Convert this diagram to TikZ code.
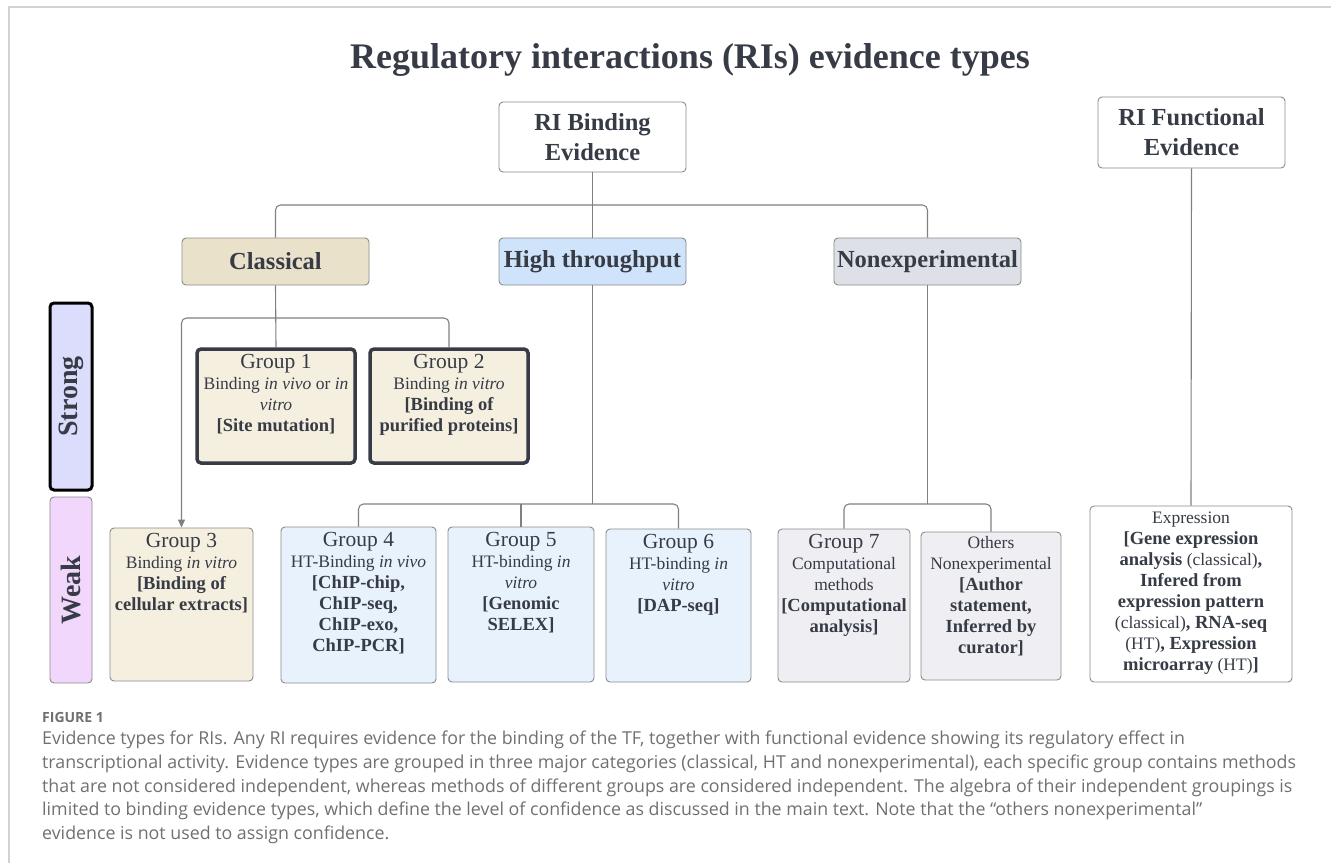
\documentclass[tikz,border=0pt]{standalone}
\usepackage{fontspec}
\setmainfont{Liberation Serif}
\newfontfamily\capfont{Open Sans}
\usetikzlibrary{arrows.meta,positioning}
\definecolor{ink}{HTML}{363B45}
\definecolor{edge}{HTML}{8A8A8A}
\definecolor{linkc}{HTML}{808080}
\definecolor{framec}{HTML}{D2D2D2}
\definecolor{capc}{HTML}{707070}
\definecolor{tan}{HTML}{E9E1C9}
\definecolor{cream}{HTML}{F5EFE0}
\definecolor{skyhdr}{HTML}{CFE3FB}
\definecolor{sky}{HTML}{E8F2FD}
\definecolor{slatehdr}{HTML}{DDE1E7}
\definecolor{slate}{HTML}{EFEFF3}
\definecolor{lavender}{HTML}{DCDCFD}
\definecolor{orchid}{HTML}{F0D7FB}
\newcommand{\grouphead}[1]{{\fontsize{21.5}{21}\selectfont #1}}
\newcommand{\gb}[1]{{\fontsize{18.5}{21}\selectfont\bfseries #1}}

\begin{document}
\begin{tikzpicture}[
  x=1pt, y=-1pt, >={Triangle[length=8pt,width=7pt]},
  box/.style={draw=edge, line width=0.9pt, rounded corners=4pt, text=ink, align=center, inner sep=2pt},
  hdr/.style={box, font=\fontsize{24.5}{30}\selectfont\bfseries, minimum width=187pt},
  lvl/.style={box, rotate=90, font=\fontsize{28}{28}\selectfont\bfseries, minimum height=42pt},
  keybox/.style={box, draw=ink, line width=3.5pt, fill=cream, minimum width=158pt, minimum height=114pt},
  grp/.style={box},
  gtxt/.style={align=center, inner sep=0pt, text=ink, font=\fontsize{17.5}{21}\selectfont},
  link/.style={draw=linkc, line width=1.1pt, rounded corners=5pt},
]
  \useasboundingbox (0,0) rectangle (1331,863);
  \draw[draw=framec, line width=1.8pt] (9,863) -- (9,7) -- (1331,7);
  \node[text=ink, font=\fontsize{36}{40}\selectfont\bfseries] (title) at (690,60) {Regulatory interactions (RIs) evidence types};

  \node[hdr, fill=white, minimum height=70pt] (rib) at (592.5,137) {RI Binding\\Evidence};
  \node[hdr, fill=white, minimum height=71pt] (rif) at (1191.5,132.5) {RI Functional\\Evidence};
  \node[hdr, fill=tan, minimum height=47pt] (cls) at (275.5,261.5) {Classical};
  \node[hdr, fill=skyhdr, minimum height=47pt] (ht) at (592.5,261.5) {High throughput};
  \node[hdr, fill=slatehdr, minimum height=47pt] (nx) at (927.5,261.5) {Nonexperimental};

  \node[lvl, draw=black, line width=3pt, fill=lavender, minimum width=187pt] (strong) at (71,396.5) {Strong};
  \node[lvl, fill=orchid, minimum width=186pt] (weak) at (71,590) {Weak};

  \node[keybox] (g1) at (276,406) {};
  \node[gtxt, below=7pt of g1.north] (t1) {\grouphead{Group 1}\\Binding \textit{in vivo} or \textit{in}\\\textit{vitro}\\\gb{[Site mutation]}};
  \node[keybox] (g2) at (449,406) {};
  \node[gtxt, below=7pt of g2.north] (t2) {\grouphead{Group 2}\\Binding \textit{in vitro}\\\gb{[Binding of}\\\gb{purified proteins]}};

  \node[grp, fill=cream, minimum width=143pt, minimum height=153pt] (g3) at (181.5,604.5) {};
  \node[gtxt, below=6pt of g3.north] (t3) {\grouphead{Group 3}\\Binding \textit{in vitro}\\\gb{[Binding of}\\\gb{cellular extracts]}};
  \node[grp, fill=sky, minimum width=155pt, minimum height=156pt] (g4) at (358.5,605) {};
  \node[gtxt, below=6pt of g4.north] (t4) {\grouphead{Group 4}\\HT-Binding \textit{in vivo}\\\gb{[ChIP-chip,}\\\gb{ChIP-seq,}\\\gb{ChIP-exo,}\\\gb{ChIP-PCR]}};
  \node[grp, fill=sky, minimum width=146pt, minimum height=155pt] (g5) at (521,604.5) {};
  \node[gtxt, below=6pt of g5.north] (t5) {\grouphead{Group 5}\\HT-binding \textit{in}\\\textit{vitro}\\\gb{[Genomic}\\\gb{SELEX]}};
  \node[grp, fill=sky, minimum width=145pt, minimum height=153pt] (g6) at (678.5,605.5) {};
  \node[gtxt, below=6pt of g6.north] (t6) {\grouphead{Group 6}\\HT-binding \textit{in}\\\textit{vitro}\\\gb{[DAP-seq]}};
  \node[grp, fill=slate, minimum width=132pt, minimum height=153pt] (g7) at (844,605.5) {};
  \node[gtxt, below=6pt of g7.north] (t7) {\grouphead{Group 7}\\Computational\\methods\\\gb{[Computational}\\\gb{analysis]}};
  \node[grp, fill=slate, minimum width=140pt, minimum height=148pt] (oth) at (991,606) {};
  \node[gtxt, below=5pt of oth.north] (to) {Others\\Nonexperimental\\\gb{[Author}\\\gb{statement,}\\\gb{Inferred by}\\\gb{curator]}};
  \node[grp, fill=white, minimum width=202pt, minimum height=176pt] (expr) at (1191,594) {};
  \node[gtxt, below=6pt of expr.north] (te) {Expression\\\gb{[Gene expression}\\\gb{analysis} (classical)\gb{,}\\\gb{Infered from}\\\gb{expression pattern}\\(classical)\gb{, RNA-seq}\\(HT)\gb{, Expression}\\\gb{microarray} (HT)\gb{]}};

  \coordinate (jb) at (592.5,205);
  \draw[link] (cls.north) |- (jb) -| (nx.north);
  \draw[link] (rib.south) -- (ht.north);
  \coordinate (jc) at (275.5,318);
  \draw[link, <-] (g3.north) |- (jc) -| (g2.north);
  \draw[link] (cls.south) -- (g1.north);
  \coordinate (jh) at (592.5,504);
  \draw[link] (g4.north) |- (jh) -| (g6.north);
  \draw[link] (ht.south) -- (jh);
  \draw[link] (g5.north) -- (g5.north |- jh);
  \coordinate (jn) at (927.5,504);
  \draw[link] (g7.north) |- (jn) -| (oth.north);
  \draw[link] (nx.south) -- (jn);
  \draw[link] (rif.south) -- (expr.north);

  \node[anchor=base west, inner sep=0pt, text=capc, font=\capfont\fontsize{14}{14}\selectfont\bfseries] (fig) at (42,722) {FIGURE 1};
  \node[anchor=north west, inner sep=0pt, align=left, text=capc, font=\capfont\fontsize{17.8}{23.7}\selectfont] (cap) at (42,731) {Evidence types for RIs. Any RI requires evidence for the binding of the TF, together with functional evidence showing its regulatory effect in\\transcriptional activity. Evidence types are grouped in three major categories (classical, HT and nonexperimental), each specific group contains methods\\that are not considered independent, whereas methods of different groups are considered independent. The algebra of their independent groupings is\\limited to binding evidence types, which define the level of confidence as discussed in the main text. Note that the “others nonexperimental”\\evidence is not used to assign confidence.};
\end{tikzpicture}
\end{document}
